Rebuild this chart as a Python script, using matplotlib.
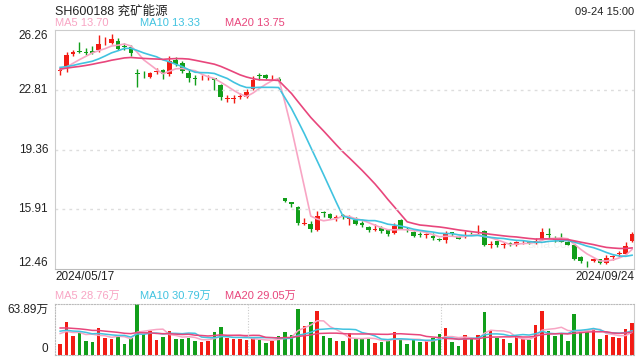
import numpy as np
import pandas as pd
import matplotlib
matplotlib.use("Agg")
import matplotlib.pyplot as plt

plt.rcParams['font.family'] = ['Liberation Sans', 'Noto Sans CJK SC', 'DejaVu Sans']

# daily candles 2024/05/17 .. 2024/09/24 (unadjusted prices)
opens = [23.90, 24.12, 24.86, 25.03, 24.97, 25.05, 25.08, 25.55, 25.53, 25.62,
         25.30, 25.28, 23.77, 23.62, 23.56, 23.83, 23.93, 23.70, 24.55, 24.37,
         23.79, 23.47, 23.47, 23.47, 23.49, 23.10, 22.27, 22.26, 22.41, 22.39,
         22.85, 23.64, 23.64, 23.47, 23.43, 16.56, 16.33, 16.04, 15.06, 15.06,
         14.73, 15.72, 15.65, 15.39, 15.56, 15.35, 15.31, 15.12, 14.86, 14.71,
         14.83, 14.69, 14.54, 15.27, 14.75, 14.62, 14.48, 14.42, 14.39, 14.21,
         14.15, 14.58, 14.31, 14.29, 14.56, 14.54, 14.67, 13.85, 14.06, 13.83,
         13.94, 13.87, 14.00, 14.08, 14.04, 14.19, 14.46, 14.17, 14.25, 14.04,
         13.86, 13.16, 12.83, 12.90, 13.04, 12.81, 13.14, 13.33, 13.35, 14.06]
closes = [23.94, 24.82, 25.00, 25.00, 24.94, 24.93, 25.47, 25.58, 25.76, 25.18,
          25.27, 24.91, 23.74, 23.58, 23.79, 23.86, 23.70, 24.47, 24.28, 23.89,
          23.47, 23.44, 23.50, 23.50, 23.39, 22.39, 22.30, 22.29, 22.44, 22.68,
          23.39, 23.61, 23.50, 23.50, 23.29, 16.37, 16.19, 15.12, 15.09, 14.79,
          15.54, 15.68, 15.42, 15.42, 15.53, 15.38, 15.08, 15.00, 14.69, 14.79,
          14.66, 14.50, 14.96, 14.79, 14.71, 14.39, 14.44, 14.46, 14.23, 14.11,
          14.50, 14.46, 14.21, 14.44, 14.52, 14.62, 13.87, 13.89, 13.83, 13.87,
          13.90, 14.00, 14.04, 13.94, 14.08, 14.58, 14.42, 14.13, 14.04, 13.86,
          13.06, 12.90, 12.79, 13.04, 12.81, 13.10, 13.18, 13.37, 13.81, 14.50]
highs = [24.12, 25.01, 25.08, 25.58, 25.20, 25.34, 25.97, 25.86, 26.05, 25.82,
         25.50, 25.39, 23.98, 23.90, 23.85, 24.05, 24.02, 24.76, 24.68, 24.47,
         23.98, 23.65, 23.66, 23.66, 23.50, 23.16, 22.50, 22.48, 22.62, 22.85,
         23.58, 23.78, 23.74, 23.64, 23.55, 16.56, 16.33, 16.10, 15.41, 15.21,
         15.79, 15.82, 15.72, 15.56, 15.66, 15.56, 15.46, 15.21, 14.96, 15.07,
         14.92, 14.71, 15.12, 15.35, 14.88, 14.66, 14.58, 14.54, 14.54, 14.23,
         14.66, 14.60, 14.35, 14.66, 14.62, 15.02, 14.73, 14.06, 14.06, 14.02,
         14.04, 14.10, 14.15, 14.10, 14.25, 14.83, 14.83, 14.35, 14.54, 14.06,
         13.88, 13.20, 12.90, 13.08, 13.06, 13.25, 13.27, 13.50, 14.04, 14.58]
lows = [23.66, 23.85, 24.76, 24.95, 24.82, 24.88, 25.00, 25.39, 25.43, 25.12,
        25.12, 24.76, 22.97, 23.50, 23.50, 23.72, 23.41, 23.62, 24.18, 23.79,
        23.28, 23.07, 23.40, 23.40, 22.81, 22.20, 22.08, 22.06, 22.28, 22.33,
        22.81, 23.35, 23.42, 23.40, 23.20, 16.30, 16.04, 14.98, 15.02, 14.58,
        14.65, 15.45, 15.35, 15.25, 15.36, 14.98, 15.00, 14.88, 14.60, 14.66,
        14.56, 14.38, 14.50, 14.75, 14.58, 14.31, 14.31, 14.25, 14.15, 14.08,
        13.96, 14.38, 14.17, 14.27, 14.44, 14.50, 13.77, 13.68, 13.73, 13.68,
        13.80, 13.80, 13.90, 13.88, 13.90, 14.15, 14.27, 14.00, 14.00, 13.83,
        12.98, 12.81, 12.58, 12.86, 12.75, 12.77, 13.00, 13.18, 13.31, 14.00]
# volume in 万 shares
volumes = [14.3, 42.0, 24.4, 30.7, 17.6, 16.8, 34.4, 21.8, 20.6, 24.4,
           14.3, 21.0, 63.89, 26.0, 30.7, 19.3, 23.1, 30.2, 19.7, 20.6,
           21.8, 18.1, 16.8, 18.1, 29.0, 35.3, 21.8, 19.7, 20.0, 19.0,
           22.0, 19.0, 15.0, 18.0, 24.0, 28.6, 25.0, 57.5, 36.5, 41.0,
           56.0, 24.0, 21.4, 17.6, 17.6, 28.0, 20.0, 20.0, 20.6, 15.0,
           16.8, 17.6, 29.4, 19.0, 13.9, 19.7, 16.4, 17.6, 21.4, 26.5,
           34.0, 16.4, 11.3, 25.2, 21.0, 25.2, 54.0, 30.7, 21.8, 20.0,
           15.5, 24.4, 20.0, 19.0, 37.8, 55.4, 30.2, 24.0, 27.3, 17.6,
           52.0, 28.6, 29.0, 32.3, 20.0, 25.6, 22.7, 21.4, 32.8, 40.7]
# sessions before 05/17, only used to seed the moving averages
prior_closes = [23.7, 23.9, 24.1, 23.8, 23.6, 23.9, 24.2, 24.0, 23.9, 23.9,
                24.4, 24.3, 24.1, 24.2, 24.15, 24.1, 23.9, 23.95, 23.97]
prior_volumes = [40, 36, 42, 35, 38, 37, 39, 36, 40, 37,
                 30, 35, 34, 31, 35, 29, 31, 30, 31]

y_ticks = [26.26, 22.81, 19.36, 15.91, 12.46]
start_label, end_label = '2024/05/17', '2024/09/24'

RED = '#f21b14'
GREEN = '#119e1a'
MA_COLORS = {5: '#f8a5c4', 10: '#41c3e0', 20: '#e8467c'}

n = len(closes)
x = np.arange(n)
o = np.array(opens); c = np.array(closes)
h = np.array(highs); l = np.array(lows)
v = np.array(volumes)
up = c >= o
colors = np.where(up, RED, GREEN)

cs = pd.Series(prior_closes + closes)
vs = pd.Series(prior_volumes + volumes)
k = len(prior_closes)

fig = plt.figure(figsize=(6.4, 3.6), dpi=100)
ax = fig.add_axes([55/640, 1 - 269/360, 579/640, 239/360])
axv = fig.add_axes([55/640, 1 - 355/360, 579/640, 50.7/360])

# candles
ax.vlines(x, l, h, colors=colors, linewidth=1)
body = np.maximum(np.abs(c - o), 0.045)
ax.bar(x, body, bottom=np.minimum(o, c), width=0.72, color=colors, linewidth=0)

for w in (5, 10, 20):
    ma = cs.rolling(w).mean().values[k:]
    ax.plot(x, ma, color=MA_COLORS[w], linewidth=1.2)

ax.set_xlim(-0.8, n - 0.7)
ax.set_ylim(y_ticks[-1], y_ticks[0])
ax.set_xticks([]); ax.set_yticks([])
for t in y_ticks[1:-1]:
    ax.axhline(t, color='#dddddd', linestyle=(0, (2, 3)), linewidth=1)
for s in ax.spines.values():
    s.set_color('#cccccc')
ax.spines['bottom'].set_color('#bbbbbb')

tr = ax.get_yaxis_transform()
for i, t in enumerate(y_ticks):
    va = 'top' if i == 0 else ('bottom' if i == len(y_ticks) - 1 else 'center')
    ax.text(-0.012, t, f'{t:.2f}', transform=tr, ha='right', va=va,
            fontsize=8.5, color='#222222')

ax.text(0.86, 0.1, 'sina.com', transform=ax.transAxes, fontsize=9,
        color='#000000', alpha=0.06, ha='center', va='center')

# volume
axv.bar(x, v, width=0.55, color=colors, linewidth=0)
for w in (5, 10, 20):
    ma = vs.rolling(w).mean().values[k:]
    axv.plot(x, ma, color=MA_COLORS[w], linewidth=1.1)
axv.set_xlim(-0.8, n - 0.7)
axv.set_ylim(0, max(volumes))
axv.set_xticks([]); axv.set_yticks([])
for side in ('top', 'bottom', 'left'):
    axv.spines[side].set_linestyle((0, (1, 1.5)))
    axv.spines[side].set_color('#bbbbbb')
axv.spines['right'].set_color('#cccccc')
for f in (1/3, 2/3):
    axv.axvline(-0.8 + f * (n - 0.7 + 0.8), color='#cccccc',
                linestyle=(0, (1, 1.5)), linewidth=0.8)
trv = axv.get_yaxis_transform()
axv.text(-0.012, max(volumes), f'{max(volumes):.2f}万', transform=trv,
         ha='right', va='top', fontsize=8.5, color='#222222')
axv.text(-0.012, 0, '0', transform=trv, ha='right', va='bottom',
         fontsize=8.5, color='#222222')

# header texts
fig.text(55/640, 1 - 12/360, 'SH600188 兖矿能源', fontsize=9, color='#222222',
         va='center', ha='left')
fig.text(634/640, 1 - 12/360, '09-24 15:00', fontsize=8, color='#222222',
         va='center', ha='right')
fig.text(55/640, 1 - 23/360, 'MA5 13.70', fontsize=8, color=MA_COLORS[5], va='center')
fig.text(140/640, 1 - 23/360, 'MA10 13.33', fontsize=8, color=MA_COLORS[10], va='center')
fig.text(225/640, 1 - 23/360, 'MA20 13.75', fontsize=8, color=MA_COLORS[20], va='center')

fig.text(55/640, 1 - 277/360, start_label, fontsize=8.5, color='#222222', va='center')
fig.text(634/640, 1 - 277/360, end_label, fontsize=8.5, color='#222222',
         va='center', ha='right')

fig.text(55/640, 1 - 296/360, 'MA5 28.76万', fontsize=8, color=MA_COLORS[5], va='center')
fig.text(140/640, 1 - 296/360, 'MA10 30.79万', fontsize=8, color=MA_COLORS[10], va='center')
fig.text(225/640, 1 - 296/360, 'MA20 29.05万', fontsize=8, color=MA_COLORS[20], va='center')

fig.savefig('out.png', dpi=100)
